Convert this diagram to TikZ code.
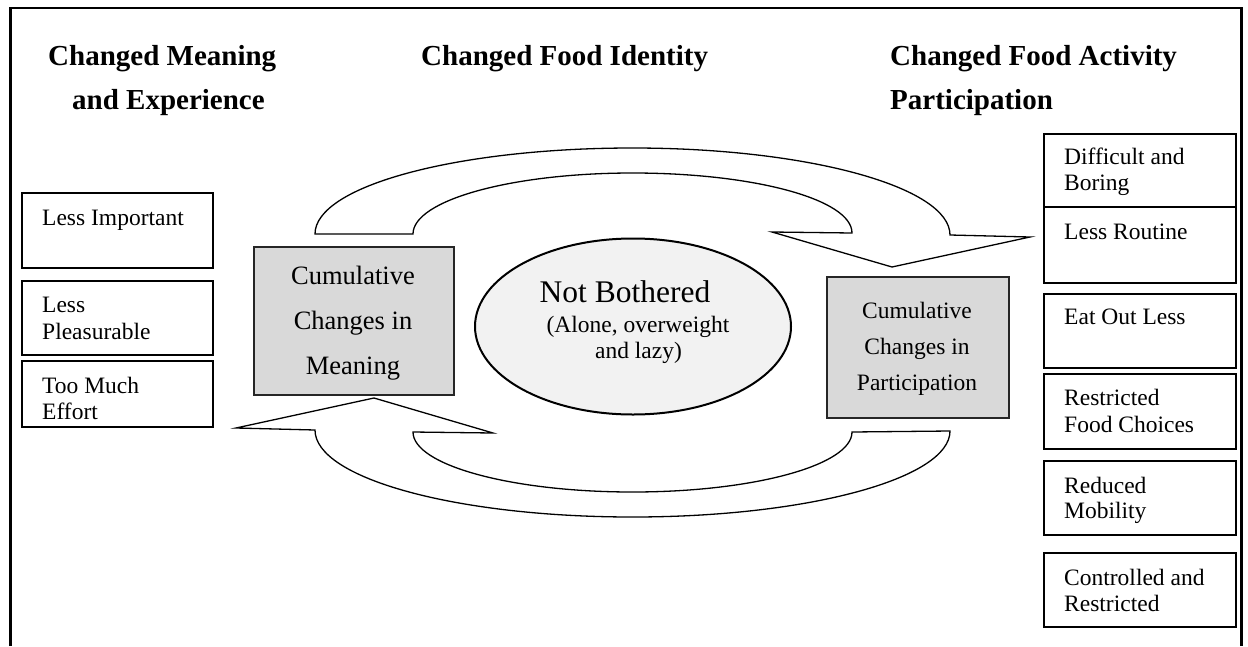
\documentclass[tikz,border=0pt]{standalone}
\usepackage{fontspec}
\setmainfont{Liberation Serif}
\usetikzlibrary{calc,shapes.geometric}
\definecolor{boxgray}{HTML}{D9D9D9}
\definecolor{ovalgray}{HTML}{F2F2F2}
\begin{document}
\begin{tikzpicture}[x=1pt,y=-1pt,
  itembox/.style={draw=black, line width=1.7pt, minimum width=191pt, inner sep=0pt, anchor=north west},
  cumbox/.style={draw=black!85, fill=boxgray, line width=2pt, inner sep=0pt, anchor=north west},
  txt/.style={inner sep=0pt, anchor=base west, font=\fontsize{23.5}{27}\selectfont},
  ctxt/.style={inner sep=0pt, anchor=base, font=\fontsize{23.5}{27}\selectfont},
  head/.style={inner sep=0pt, anchor=base west, font=\fontsize{29}{35}\selectfont\bfseries},
  flow/.style={draw=black, fill=white, line width=1.3pt, line join=miter}]
\useasboundingbox (0,0) rectangle (1248,646);
\fill[white] (0,0) rectangle (1248,646);

% outer frame, open at the bottom
\draw[line width=2.8pt] (10.3,646) -- (10.3,8) -- (1241.5,8) -- (1241.5,646);

% column headings
\node[head] (h1a) at (48,65) {Changed Meaning};
\node[head] (h1b) at (72,109) {and Experience};
\node[head] (h2) at (421,65) {Changed Food Identity};
\node[head] (h3a) at (890,65) {Changed Food Activity};
\node[head] (h3b) at (890,109) {Participation};

% meaning and experience items
\node[itembox, minimum height=75pt] (li) at (21,192) {};
\node[txt] (lit) at (42,225) {Less Important};
\node[itembox, minimum height=74pt] (lp) at (21,280) {};
\node[txt] (lpt1) at (42,312) {Less};
\node[txt] (lpt2) at (42,339) {Pleasurable};
\node[itembox, minimum height=66pt] (te) at (21,360) {};
\node[txt] (tet1) at (42,393) {Too Much};
\node[txt] (tet2) at (42,419) {Effort};

% activity participation items
\node[itembox, minimum height=73pt, minimum width=192pt] (db) at (1043,133) {};
\node[txt] (dbt1) at (1064,164) {Difficult and};
\node[txt] (dbt2) at (1064,190) {Boring};
\node[itembox, minimum height=76pt, minimum width=192pt] (lr) at (1043,206) {};
\node[txt] (lrt) at (1064,239) {Less Routine};
\node[itembox, minimum height=74pt, minimum width=192pt] (eo) at (1043,293) {};
\node[txt] (eot) at (1064,324) {Eat Out Less};
\node[itembox, minimum height=75pt, minimum width=192pt] (rf) at (1043,373) {};
\node[txt] (rft1) at (1064,405) {Restricted};
\node[txt] (rft2) at (1064,432) {Food Choices};
\node[itembox, minimum height=74pt, minimum width=192pt] (rm) at (1043,460) {};
\node[txt] (rmt1) at (1064,493) {Reduced};
\node[txt] (rmt2) at (1064,518) {Mobility};
\node[itembox, minimum height=74pt, minimum width=192pt] (cr) at (1043,552) {};
\node[txt] (crt1) at (1064,585) {Controlled and};
\node[txt] (crt2) at (1064,611) {Restricted};

% cumulative change boxes
\node[cumbox, minimum width=200pt, minimum height=148pt] (cm) at (253,246) {};
\node[ctxt, font=\fontsize{26.5}{30}\selectfont] (cmt1) at (353,284) {Cumulative};
\node[ctxt, font=\fontsize{26.5}{30}\selectfont] (cmt2) at (353,329) {Changes in};
\node[ctxt, font=\fontsize{26.5}{30}\selectfont] (cmt3) at (353,374) {Meaning};
\node[cumbox, minimum width=182pt, minimum height=141pt] (cp) at (826,276) {};
\node[ctxt] (cpt1) at (917,318) {Cumulative};
\node[ctxt] (cpt2) at (917,354) {Changes in};
\node[ctxt] (cpt3) at (917,390) {Participation};

% central oval
\node[draw=black, fill=ovalgray, line width=2pt, ellipse, inner sep=0pt,
      minimum width=316pt, minimum height=176pt] (nb) at (633,326.5) {};
\node[inner sep=0pt, anchor=base, font=\fontsize{31.5}{36}\selectfont] (nbt) at (625,302) {Not Bothered};
\node[ctxt] (nbs1) at (638,332) {(Alone, overweight};
\node[ctxt] (nbs2) at (638.5,358) {and lazy)};

% curved arrow over the top, pointing down to participation
\draw[flow] (315,234) -- (413,234)
  .. controls (413,200.3) and (511.3,173) .. (632.5,173)
  .. controls (753.7,173) and (852,199.3) .. (852,233)
  -- (772,232) -- (892,267) -- (1030,237) -- (950,235)
  .. controls (950,187) and (807.9,148) .. (632.5,148)
  .. controls (457.1,148) and (315,186) .. (315,234) -- cycle;

% curved arrow underneath, pointing up to meaning
\draw[flow] (236,428) -- (374,398) -- (493,433) -- (413,432)
  .. controls (413,465.1) and (511.3,492) .. (632.5,492)
  .. controls (753.7,492) and (852,465.1) .. (852,432)
  -- (950,431)
  .. controls (950,478.5) and (807.9,517) .. (632.5,517)
  .. controls (457.1,517) and (315,478.5) .. (315,430) -- cycle;
\end{tikzpicture}
\end{document}
